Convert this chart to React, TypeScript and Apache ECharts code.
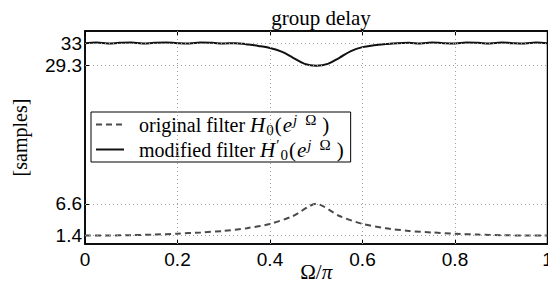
import React, { useEffect, useRef } from "react";
import * as echarts from "echarts";

const xModified = [0, 0.025, 0.05, 0.075, 0.1, 0.125, 0.15, 0.175, 0.2, 0.225, 0.25, 0.275, 0.3, 0.325, 0.35, 0.375, 0.4, 0.425, 0.45, 0.475, 0.5, 0.525, 0.55, 0.575, 0.6, 0.625, 0.65, 0.675, 0.7, 0.725, 0.75, 0.775, 0.8, 0.825, 0.85, 0.875, 0.9, 0.925, 0.95, 0.975, 1];
const yModified = [33.0, 33.1, 32.95, 33.05, 33.1, 32.95, 33.05, 33.1, 33.0, 32.95, 33.1, 33.05, 32.95, 33.0, 32.8, 32.55, 32.2, 31.6, 30.6, 29.6, 29.3, 29.6, 30.6, 31.7, 32.35, 32.65, 32.85, 33.0, 33.05, 32.95, 33.1, 33.0, 32.95, 33.1, 33.05, 32.95, 33.1, 33.0, 32.95, 33.1, 33.0];

const xOriginal = [0, 0.05, 0.1, 0.15, 0.2, 0.25, 0.3, 0.35, 0.4, 0.45, 0.5, 0.55, 0.6, 0.65, 0.7, 0.75, 0.8, 0.85, 0.9, 0.95, 1];
const yOriginal = [1.4, 1.4, 1.45, 1.55, 1.7, 1.9, 2.15, 2.6, 3.3, 4.6, 6.6, 4.6, 3.3, 2.6, 2.15, 1.9, 1.7, 1.55, 1.45, 1.4, 1.4];

const yTicks = [1.4, 6.6, 29.3, 33];
const xTicks = [0.2, 0.4, 0.6, 0.8];

const SERIF = "'Liberation Serif', 'DejaVu Serif', serif";
const SANS = "'Liberation Sans', Arial, sans-serif";

export default function App() {
  const ref = useRef<HTMLDivElement>(null);
  useEffect(() => {
    if (!ref.current) return;
    const chart = echarts.init(ref.current, undefined, { renderer: "svg" });
    const pair = (xs: number[], ys: number[]) => xs.map((x, i) => [x, ys[i]]);
    const LH = 25;
    const richMath = {
      f: { fontFamily: SERIF, fontSize: 20, color: "#000", lineHeight: LH, verticalAlign: "middle", padding: [0, 0, 0, 10] },
      i: { fontFamily: SERIF, fontSize: 21, fontStyle: "italic", color: "#000", lineHeight: LH, verticalAlign: "middle" },
      p: { fontFamily: SERIF, fontSize: 21, color: "#000", lineHeight: LH, verticalAlign: "middle", padding: [0, 1, 0, 1] },
      sub: { fontFamily: SERIF, fontSize: 15, color: "#000", lineHeight: LH, verticalAlign: "bottom", padding: [0, 0, 0, 1] },
      pr: { fontFamily: SERIF, fontSize: 15, color: "#000", lineHeight: LH, verticalAlign: "top", padding: [0, 0, 0, 1] },
      supj: { fontFamily: SERIF, fontSize: 15, fontStyle: "italic", color: "#000", lineHeight: LH, verticalAlign: "top", padding: [0, 0, 0, 1] },
      supO: { fontFamily: SERIF, fontSize: 15, color: "#000", lineHeight: LH, verticalAlign: "top", padding: [0, 5, 0, 8] },
    };
    chart.setOption({
      animation: false,
      backgroundColor: "#fff",
      title: {
        text: "group delay",
        left: 316,
        textAlign: "center",
        top: 2,
        textStyle: { fontFamily: SERIF, fontSize: 21, fontWeight: "normal", color: "#000" },
      },
      grid: {
        left: 85, right: 0.5, top: 31, bottom: 43,
        outerBoundsMode: "none",
        containLabel: false,
        show: true, borderColor: "#000", borderWidth: 1.5, backgroundColor: "transparent",
      },
      legend: {
        orient: "vertical",
        left: 91,
        top: 112,
        backgroundColor: "#fff",
        borderColor: "#000",
        borderWidth: 1,
        borderRadius: 0,
        padding: [0, 6, 0, 4],
        itemGap: 0,
        itemWidth: 28,
        itemHeight: 14,
        itemStyle: { opacity: 0, borderWidth: 0 },
        textStyle: { rich: richMath, fontFamily: SERIF, fontSize: 20, color: "#000" },
        formatter: (name: string) =>
          name === "original"
            ? "{f|original filter }{i|H}{sub|0}{p|(}{i|e}{supj|j}{supO|Ω}{p|)}"
            : "{f|modified filter }{i|H}{pr|′}{sub|0}{p|(}{i|e}{supj|j}{supO|Ω}{p|)}",
        data: ["original", "modified"],
      },
      xAxis: [
        {
          type: "value",
          min: 0,
          max: 1,
          interval: 0.2,
          name: "{a|Ω/}{b|π}",
          nameLocation: "middle",
          nameGap: 17,
          nameMoveOverlap: false,
          nameTextStyle: {
            rich: {
              a: { fontFamily: SERIF, fontSize: 21, color: "#000" },
              b: { fontFamily: SERIF, fontSize: 21, fontStyle: "italic", color: "#000" },
            },
          },
          axisLine: { show: true, lineStyle: { color: "#000", width: 1.5 } },
          axisTick: { show: true, inside: true, length: 5, lineStyle: { color: "#000" } },
          axisLabel: { fontFamily: SANS, fontSize: 19, color: "#000", margin: 6, formatter: (v: number) => String(Number(v.toFixed(1))) },
          splitLine: { show: false },
        },
        {
          type: "value",
          position: "top",
          min: 0,
          max: 1,
          interval: 0.2,
          axisLine: { show: true, lineStyle: { color: "#000", width: 1.5 } },
          axisTick: { show: true, inside: true, length: 5, lineStyle: { color: "#000" } },
          axisLabel: { show: false },
          splitLine: { show: false },
        },
      ],
      yAxis: {
        type: "value",
        min: 0,
        max: 35,
        name: "[samples]",
        nameLocation: "middle",
        nameGap: 55,
        nameMoveOverlap: false,
        nameTextStyle: { fontFamily: SERIF, fontSize: 20, color: "#000" },
        axisLine: { show: true, lineStyle: { color: "#000", width: 1.5 } },
        axisTick: { show: true, inside: true, length: 5, customValues: yTicks, lineStyle: { color: "#000" } },
        axisLabel: { fontFamily: SANS, fontSize: 19, color: "#000", margin: 3, customValues: yTicks, formatter: (v: number) => String(v) },
        splitLine: { show: false },
      },
      series: [
        {
          name: "original",
          type: "line",
          data: pair(xOriginal, yOriginal),
          showSymbol: false,
          symbol: "none",
          smooth: 0.25,
          lineStyle: { color: "#4a4a4a", width: 2, type: [6, 4] },
          itemStyle: { color: "#4a4a4a" },
          markLine: {
            silent: true,
            symbol: "none",
            label: { show: false },
            lineStyle: { color: "#a0a0a0", width: 1, type: [1, 3] },
            data: [...xTicks.map((v) => ({ xAxis: v })), ...yTicks.map((v) => ({ yAxis: v }))],
          },
          z: 3,
        },
        {
          name: "modified",
          type: "line",
          data: pair(xModified, yModified),
          showSymbol: false,
          symbol: "none",
          smooth: 0.4,
          lineStyle: { color: "#111", width: 2 },
          itemStyle: { color: "#111" },
          z: 3,
        },
      ],
    });
    return () => chart.dispose();
  }, []);
  return <div ref={ref} style={{ width: 548, height: 287, position: "absolute", left: 0, top: 0 }} />;
}
